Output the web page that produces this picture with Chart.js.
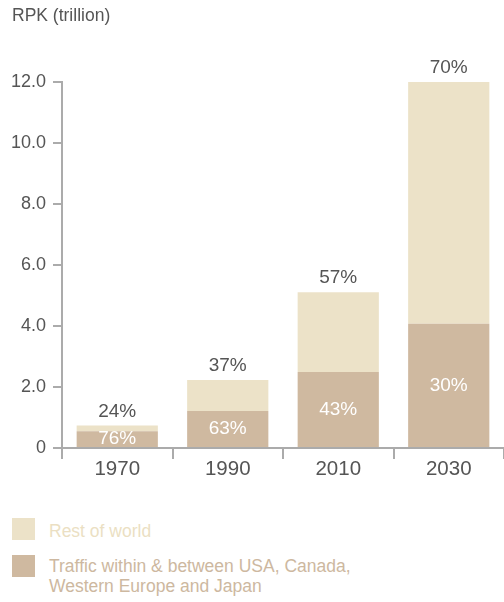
<!DOCTYPE html>
<html>
<head>
<meta charset="utf-8">
<script src="https://cdn.jsdelivr.net/npm/chart.js@4.4.1/dist/chart.umd.min.js"></script>
<style>
  body { margin: 0; background: #fff; }
  #wrap { position: relative; width: 504px; height: 602px; font-family: 'Liberation Sans', Arial, sans-serif; }
  #rpkChart { position: absolute; left: 0; top: 0; }
  .title { position: absolute; left: 12px; top: 5px; font-size: 17.5px; line-height: 20px; color: #555; }
  .key { position: absolute; left: 12px; width: 23px; height: 22px; }
  .keyText { position: absolute; left: 49px; font-size: 17.5px; line-height: 19.5px; }
</style>
</head>
<body>
<div id="wrap">
  <canvas id="rpkChart" width="504" height="490"></canvas>
  <div class="title">RPK (trillion)</div>
  <div class="key" style="top:518px;background:#ece2c8"></div>
  <div class="keyText" style="top:522px;color:#ebdfc3">Rest of world</div>
  <div class="key" style="top:555px;background:#cfb9a0"></div>
  <div class="keyText" style="top:557px;color:#cdb8a0">Traffic within &amp; between USA, Canada,<br>Western Europe and Japan</div>
</div>
<script>
const years = ['1970', '1990', '2010', '2030']
const coreTraffic = [0.55, 1.21, 2.49, 4.07]   // USA, Canada, W. Europe, Japan
const restOfWorld = [0.19, 1.02, 2.62, 7.93]
const coreShare = ['76%', '63%', '43%', '30%']
const restShare = ['24%', '37%', '57%', '70%']
const yTicks = [0, 2, 4, 6, 8, 10, 12]

const sans = "'Liberation Sans', Arial, sans-serif"
const axisGray = '#ababab'
const textGray = '#555555'

// percent labels: share of rest of world above the bar, core share inside
const shareLabels = {
  id: 'shareLabels',
  afterDatasetsDraw(chart) {
    const ctx = chart.ctx
    const core = chart.getDatasetMeta(0).data
    const rest = chart.getDatasetMeta(1).data
    ctx.save()
    ctx.font = '19px ' + sans
    ctx.textAlign = 'center'
    ctx.textBaseline = 'middle'
    core.forEach((bar, i) => {
      ctx.fillStyle = '#ffffff'
      ctx.fillText(coreShare[i], bar.x, (bar.y + bar.base) / 2)
      ctx.fillStyle = textGray
      ctx.fillText(restShare[i], rest[i].x, rest[i].y - 14)
    })
    ctx.restore()
  }
}

const ctx = document.getElementById('rpkChart')

new Chart(ctx, {
  type: 'bar',
  data: {
    labels: years,
    datasets: [
      {
        label: 'Traffic within & between USA, Canada, Western Europe and Japan',
        data: coreTraffic,
        backgroundColor: '#cfb9a0',
        borderWidth: 0
      },
      {
        label: 'Rest of world',
        data: restOfWorld,
        backgroundColor: '#ece2c8',
        borderWidth: 0
      }
    ]
  },
  options: {
    responsive: false,
    animation: false,
    barPercentage: 0.735,
    categoryPercentage: 1,
    layout: { padding: { left: 0, right: 0, top: 82, bottom: 0 } },
    plugins: {
      legend: { display: false },
      tooltip: { enabled: false }
    },
    scales: {
      x: {
        stacked: true,
        offset: true,
        grid: {
          offset: true,
          drawOnChartArea: false,
          color: axisGray,
          lineWidth: 2,
          tickLength: 11
        },
        border: { color: axisGray, width: 2 },
        ticks: {
          color: textGray,
          padding: 0,
          font: { family: sans, size: 20.5, lineHeight: 1 }
        },
        afterFit(scale) { scale.height = 42 }
      },
      y: {
        stacked: true,
        min: 0,
        max: 12,
        grid: {
          drawOnChartArea: false,
          color: axisGray,
          lineWidth: 2,
          tickLength: 9
        },
        border: { color: axisGray, width: 2 },
        afterBuildTicks(scale) {
          scale.ticks = yTicks.map(v => ({ value: v }))
        },
        ticks: {
          color: textGray,
          padding: 7,
          font: { family: sans, size: 18 },
          callback: v => v === 0 ? '0' : v.toFixed(1)
        },
        afterFit(scale) { scale.width = 62 }
      }
    }
  },
  plugins: [shareLabels]
})
</script>
</body>
</html>
